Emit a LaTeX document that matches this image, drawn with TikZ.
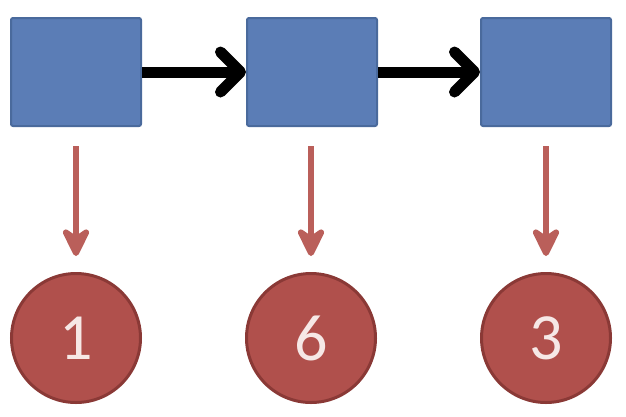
\documentclass[tikz,border=0pt]{standalone}
\usepackage{fontspec}
\setmainfont{Carlito}
\usetikzlibrary{arrows.meta}
\definecolor{boxfill}{HTML}{5B7DB6}
\definecolor{boxline}{HTML}{4A6A9C}
\definecolor{circfill}{HTML}{B0504C}
\definecolor{circline}{HTML}{8A3936}
\definecolor{redarrow}{HTML}{BA5F5A}
\definecolor{numtext}{HTML}{F6E8E6}
\tikzset{
  listbox/.style={draw=boxline, line width=2pt, fill=boxfill, minimum width=130pt, minimum height=108pt, inner sep=0pt, rounded corners=2pt},
  valcirc/.style={circle, draw=circline, line width=3pt, fill=circfill, minimum size=129pt, inner sep=0pt, text=numtext, font=\fontsize{66}{70}\selectfont},
  nextarrow/.style={line width=11pt, black, -{Straight Barb[length=20pt, width=40pt, line cap=round, line join=round]}},
  valarrow/.style={line width=6pt, redarrow, -{Stealth[length=36pt, width=35pt, inset=12pt, line join=round]}}
}
\begin{document}
\begin{tikzpicture}[x=1pt, y=-1pt]
\useasboundingbox (0,0) rectangle (626,416);
\node[listbox] (b1) at (76,72) {};
\node[listbox] (b2) at (312,72) {};
\node[listbox] (b3) at (546,72) {};
\node[valcirc] (c1) at (76,338) {1};
\node[valcirc] (c2) at (311,338) {6};
\node[valcirc] (c3) at (546,338) {3};
\draw[nextarrow] (b1.east) -- (b2.west);
\draw[nextarrow] (b2.east) -- (b3.west);
\coordinate (s1) at (76,146);
\coordinate (s2) at (311,146);
\coordinate (s3) at (546,146);
\coordinate (e1) at (76,256);
\coordinate (e2) at (311,256);
\coordinate (e3) at (546,256);
\draw[valarrow] (s1) -- (e1);
\draw[valarrow] (s2) -- (e2);
\draw[valarrow] (s3) -- (e3);
\end{tikzpicture}
\end{document}
